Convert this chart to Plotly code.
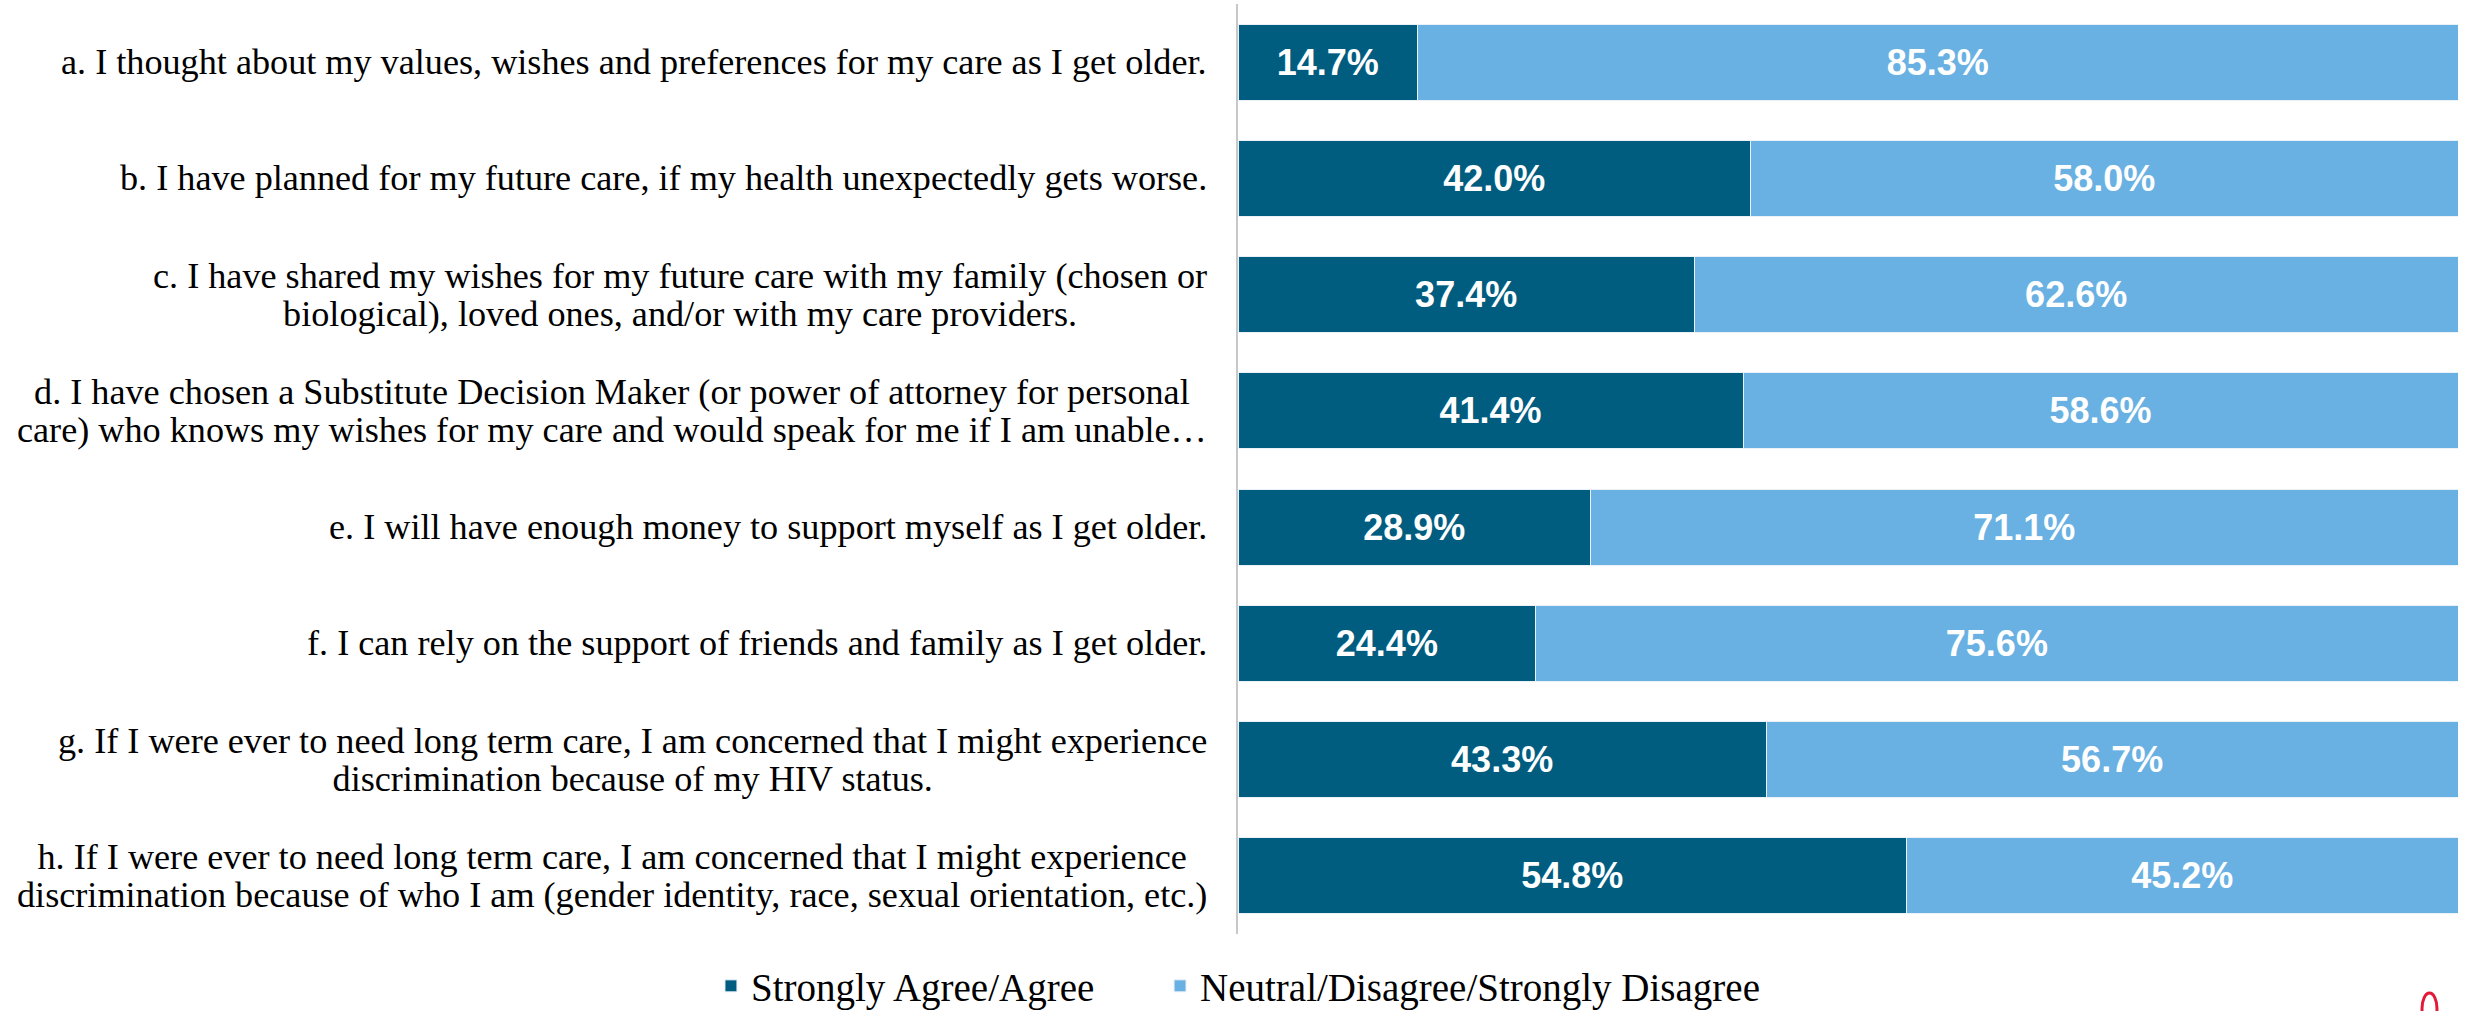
import plotly.graph_objects as go

categories = [
    "a. I thought about my values, wishes and preferences for my care as I get older.",
    "b. I have planned for my future care, if my health unexpectedly gets worse.",
    "c. I have shared my wishes for my future care with my family (chosen or<br>biological), loved ones, and/or with my care providers.",
    "d. I have chosen a Substitute Decision Maker (or power of attorney for personal<br>care) who knows my wishes for my care and would speak for me if I am unable…",
    "e. I will have enough money to support myself as I get older.",
    "f. I can rely on the support of friends and family as I get older.",
    "g. If I were ever to need long term care, I am concerned that I might experience<br>discrimination because of my HIV status.",
    "h. If I were ever to need long term care, I am concerned that I might experience<br>discrimination because of who I am (gender identity, race, sexual orientation, etc.)",
]
agree = [14.7, 42.0, 37.4, 41.4, 28.9, 24.4, 43.3, 54.8]
neutral = [85.3, 58.0, 62.6, 58.6, 71.1, 75.6, 56.7, 45.2]
series_names = ["Strongly Agree/Agree", "Neutral/Disagree/Strongly Disagree"]
colors = ["#005D80", "#69B1E2"]

keys = [c.split(".")[0] for c in categories]

fig = go.Figure()
for i, (name, vals, col) in enumerate(zip(series_names, [agree, neutral], colors)):
    fig.add_trace(go.Bar(
        y=keys, x=vals, name=name, orientation="h",
        legend="legend" if i == 0 else "legend2",
        marker=dict(color=col, line=dict(color="#EAF2F8", width=1)),
        texttemplate="%{x:.1f}%", textposition="inside", insidetextanchor="middle",
        textangle=0, constraintext="none",
        textfont=dict(color="white", size=36, family="Liberation Sans", weight="bold"),
    ))

for k, label in zip(keys, categories):
    lines = label.split("<br>")
    txt = "<br>".join(f"<span style='font-size:36.2px'>{ln}</span>" for ln in lines)
    fig.add_annotation(
        x=-0.0235, xref="paper", y=k, yref="y", text=txt, showarrow=False,
        xanchor="right", yanchor="middle", align="center",
        font=dict(family="Liberation Serif", size=29.5, color="black"),
    )

fig.add_shape(type="circle", xref="paper", yref="paper",
              x0=(2422 - 1238) / 1220, x1=(2437 - 1238) / 1220,
              y0=(934 - 1024) / 930, y1=(934 - 993) / 930,
              line=dict(color="#E31937", width=3))

legend_common = dict(orientation="h", xanchor="left", y=-0.0559, yanchor="middle",
                     font=dict(family="Liberation Serif", size=39, color="black"),
                     bgcolor="rgba(0,0,0,0)")

fig.update_layout(
    width=2468, height=1011,
    margin=dict(l=1238, r=10, t=4, b=77, autoexpand=False),
    barmode="stack", bargap=0.346,
    plot_bgcolor="white", paper_bgcolor="white",
    xaxis=dict(range=[0, 100], visible=False, fixedrange=True),
    yaxis=dict(categoryorder="array", categoryarray=keys, autorange="reversed",
               showticklabels=False, showline=True, linecolor="#C8C8C8", linewidth=2,
               showgrid=False, zeroline=False, ticks=""),
    legend=dict(x=-0.432, **legend_common),
    legend2=dict(x=-0.0639, **legend_common),
    showlegend=True,
)

fig.write_html("out.html")
